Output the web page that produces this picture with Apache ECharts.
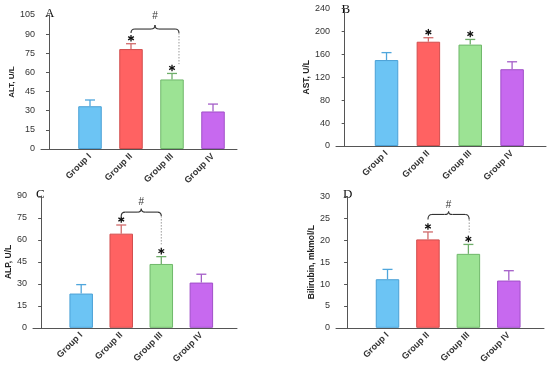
<!DOCTYPE html>
<html>
<head>
<meta charset="utf-8">
<script src="https://cdn.jsdelivr.net/npm/echarts@6/dist/echarts.min.js"></script>
<style>html,body{margin:0;padding:0;background:#fff}#c{width:550px;height:366px}</style>
</head>
<body>
<div id="c"></div>
<script>
// ---- data ----
const categories = ['Group I', 'Group II', 'Group III', 'Group IV'];
const altMean = [33.5, 78.3, 54.5, 29.4];
const altErr = [4.9, 4.2, 4.7, 5.8];
const astMean = [150, 182, 177, 134];
const astErr = [13, 7, 9, 13];
const alpMean = [23.4, 64.3, 43.6, 30.9];
const alpErr = [6.1, 5.9, 5.0, 5.7];
const bilMean = [11.1, 20.2, 16.9, 10.8];
const bilErr = [2.25, 1.7, 2.15, 2.25];
const starFlags = [0, 1, 1, 0];
const yTicksA = [0, 105, 15];
const yTicksB = [0, 240, 40];
const yTicksC = [0, 90, 15];
const yTicksD = [0, 30, 5];
// bracket: [xLeft, xRight, yEnd, yLine, yPeak, yDotBottom, yHash]
const bracketA = [2.0, 3.17, 90.9, 94, 97.2, 66.5, 104];
const bracketC = [2.0, 3.0, 76.3, 79, 81.3, 57, 85.4];
const bracketD = [2.0, 3.02, 24.75, 25.9, 26.6, 21.8, 27.9];

// ---- styles ----
const fills = ['#6cc4f4', '#ff6262', '#9ce394', '#c769ef'];
const borders = ['#4aa0d6', '#d24e4e', '#70b86b', '#a050c8'];
const errColors = ['#4fa6dc', '#d06a6a', '#6fae6a', '#a45ec8'];
const FONT = 'Liberation Sans';

const panels = [
  {mean: altMean, err: altErr, y: yTicksA, name: 'ALT, U/L', nameSize: 8, nameGap: 24.5, letter: 'A',
   grid: {left: 41, top: 15, width: 196, height: 134}, xr: [-0.195, 4.585], bracket: bracketA, lx: 45, ly: 13.5},
  {mean: astMean, err: astErr, y: yTicksB, name: 'AST, U/L', nameSize: 8.5, nameGap: 25, letter: 'B',
   grid: {left: 336, top: 8.5, width: 210, height: 137.5}, xr: [-0.207, 4.81], bracket: null, lx: 341.5, ly: 9.5},
  {mean: alpMean, err: alpErr, y: yTicksC, name: 'ALP, U/L', nameSize: 8.5, nameGap: 17, letter: 'C',
   grid: {left: 33, top: 196, width: 204, height: 132.5}, xr: [-0.203, 4.89], bracket: bracketC, lx: 36, ly: 195},
  {mean: bilMean, err: bilErr, y: yTicksD, name: 'Bilirubin, mkmol/L', nameSize: 8.5, nameGap: 19, letter: 'D',
   grid: {left: 336, top: 196.5, width: 208, height: 133}, xr: [-0.274, 4.87], bracket: bracketD, lx: 343, ly: 195}
];

const grid = [], xAxis = [], yAxis = [], series = [], graphic = [];
const axisColor = '#555';

panels.forEach((p, i) => {
  grid.push(p.grid);
  xAxis.push({
    type: 'value', gridIndex: i, min: p.xr[0], max: p.xr[1],
    axisLine: {show: true, lineStyle: {color: axisColor, width: 1}},
    axisTick: {show: false},
    splitLine: {show: false},
    axisLabel: {
      customValues: [1, 2, 3, 4],
      formatter: v => categories[Math.round(v) - 1] || '',
      rotate: 45, fontSize: 9, fontWeight: 'bold', color: '#333', fontFamily: FONT, margin: 6
    }
  });
  yAxis.push({
    type: 'value', gridIndex: i, min: p.y[0], max: p.y[1], interval: p.y[2],
    name: p.name, nameLocation: 'middle', nameGap: p.nameGap,
    nameTextStyle: {fontSize: p.nameSize, fontWeight: 'bold', color: '#222', fontFamily: FONT},
    axisLine: {show: true, lineStyle: {color: axisColor, width: 1}},
    axisTick: {show: true, length: 3, lineStyle: {color: axisColor}},
    splitLine: {show: false},
    axisLabel: {fontSize: 9, color: '#333', fontFamily: FONT, margin: 6}
  });
  series.push({
    type: 'bar', xAxisIndex: i, yAxisIndex: i, barWidth: 23.5,
    data: p.mean.map((v, k) => ({value: [k + 1, v], itemStyle: {color: fills[k], borderColor: borders[k], borderWidth: 1}})),
    z: 2
  });
  series.push({
    type: 'custom', xAxisIndex: i, yAxisIndex: i, z: 3,
    data: p.mean.map((v, k) => [k + 1, v, p.err[k]]),
    renderItem: (params, api) => {
      const x = api.value(0), v = api.value(1), e = api.value(2);
      const a = api.coord([x, v]), b = api.coord([x, v + e]);
      const c = errColors[params.dataIndex];
      const st = {stroke: c, lineWidth: 1.3};
      return {type: 'group', children: [
        {type: 'line', shape: {x1: a[0], y1: a[1], x2: b[0], y2: b[1]}, style: st},
        {type: 'line', shape: {x1: b[0] - 5, y1: b[1], x2: b[0] + 5, y2: b[1]}, style: st}
      ]};
    }
  });
  series.push({
    type: 'custom', xAxisIndex: i, yAxisIndex: i, z: 4,
    data: p.mean.map((v, k) => [k + 1, v + p.err[k], starFlags[k]]).filter(d => d[2]),
    renderItem: (params, api) => {
      const pt = api.coord([api.value(0), api.value(1)]);
      const cx = pt[0], cy = pt[1] - 5.5, r = 3.3;
      const st = {stroke: '#111', lineWidth: 1.3};
      const ch = [];
      [90, 30, 150].forEach(deg => {
        const t = deg * Math.PI / 180;
        ch.push({type: 'line', shape: {x1: cx - r * Math.cos(t), y1: cy - r * Math.sin(t), x2: cx + r * Math.cos(t), y2: cy + r * Math.sin(t)}, style: st});
      });
      return {type: 'group', children: ch};
    }
  });
  if (p.bracket) {
    series.push({
      type: 'custom', xAxisIndex: i, yAxisIndex: i, z: 4,
      data: [p.bracket],
      renderItem: (params, api) => {
        const b = [0, 1, 2, 3, 4, 5, 6].map(d => api.value(d));
        const L = api.coord([b[0], b[2]]), R = api.coord([b[1], b[2]]);
        const H = api.coord([b[0], b[3]])[1], P = api.coord([b[0], b[4]])[1];
        const D = api.coord([b[1], b[5]])[1], Hy = api.coord([b[0], b[6]])[1];
        const xl = L[0], xr = R[0], yE = L[1], M = (xl + xr) / 2, r = 4;
        const st = {stroke: '#333', lineWidth: 1.1, fill: null};
        return {type: 'group', children: [
          {type: 'bezierCurve', shape: {x1: xl, y1: yE, cpx1: xl, cpy1: H, x2: xl + r, y2: H}, style: st},
          {type: 'line', shape: {x1: xl + r, y1: H, x2: M - r, y2: H}, style: st},
          {type: 'bezierCurve', shape: {x1: M - r, y1: H, cpx1: M, cpy1: H, x2: M, y2: P}, style: st},
          {type: 'bezierCurve', shape: {x1: M, y1: P, cpx1: M, cpy1: H, x2: M + r, y2: H}, style: st},
          {type: 'line', shape: {x1: M + r, y1: H, x2: xr - r, y2: H}, style: st},
          {type: 'bezierCurve', shape: {x1: xr - r, y1: H, cpx1: xr, cpy1: H, x2: xr, y2: yE}, style: st},
          {type: 'line', shape: {x1: xr, y1: yE, x2: xr, y2: D}, style: {stroke: '#999', lineWidth: 1, lineDash: [1.5, 1.5]}},
          {type: 'text', x: M, y: Hy, style: {text: '#', align: 'center', verticalAlign: 'middle', fontSize: 10, fill: '#333', fontFamily: FONT}}
        ]};
      }
    });
  }
  graphic.push({
    type: 'text', x: p.lx, y: p.ly,
    style: {text: p.letter, fontSize: 13, fontFamily: 'Liberation Serif', fill: '#111', align: 'left', verticalAlign: 'middle'}
  });
});

const chart = echarts.init(document.getElementById('c'), null, {renderer: 'canvas'});
chart.setOption({animation: false, grid, xAxis, yAxis, series, graphic});
</script>
</body>
</html>
